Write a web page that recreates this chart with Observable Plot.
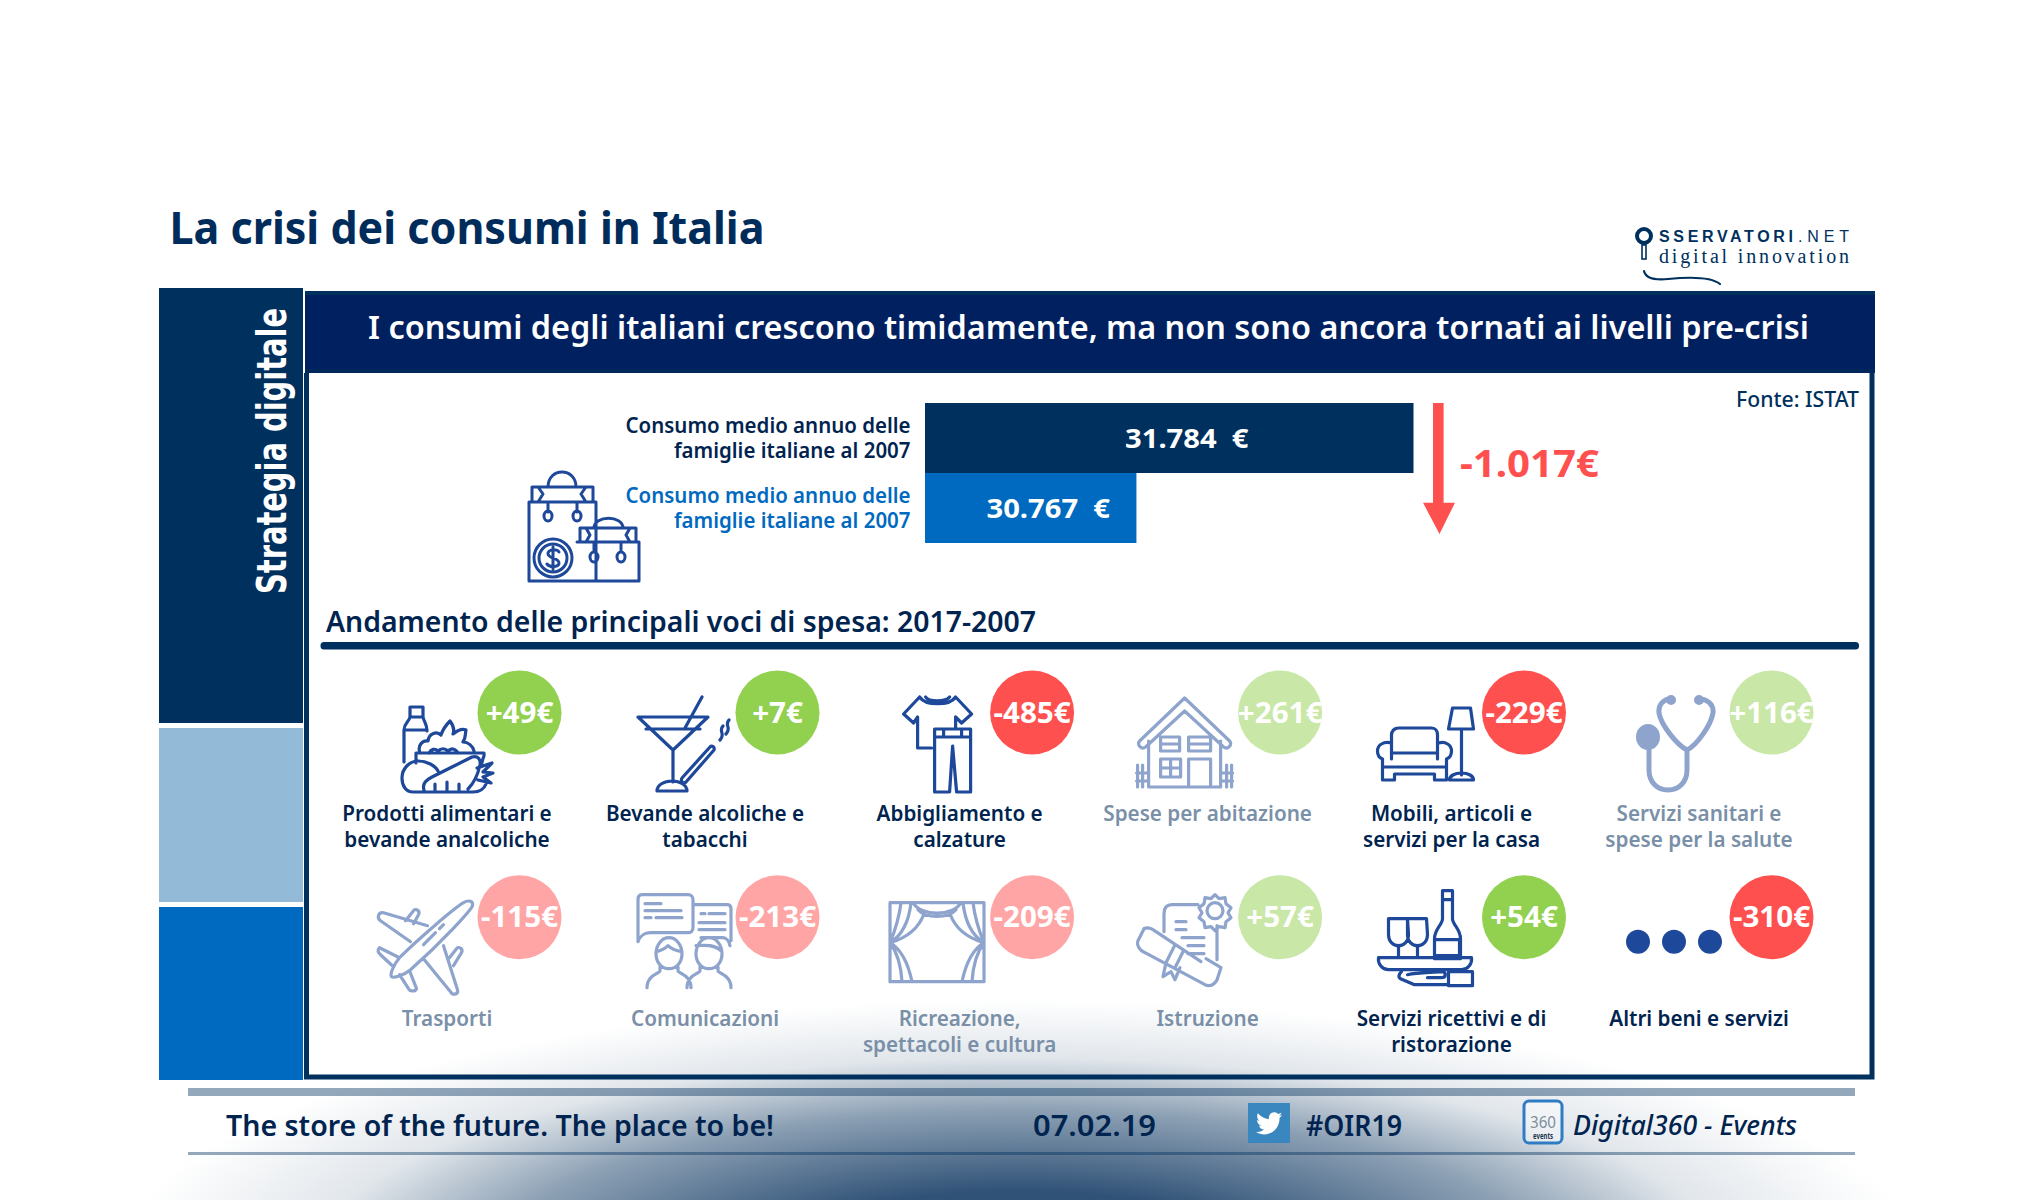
<!DOCTYPE html>
<html lang="it"><head><meta charset="utf-8">
<script src="https://cdn.jsdelivr.net/npm/d3@7"></script>
<script src="https://cdn.jsdelivr.net/npm/@observablehq/plot@0.6"></script>
<style>
html,body{margin:0;padding:0;background:#fff}
#page{position:relative;width:2040px;height:1200px;overflow:hidden;
 background:radial-gradient(ellipse 900px 262px at 1018px 1262px,#305277 0%,#305277 27%,#8ca0b4 58%,#e1e6eb 78%,#ffffff 100%)}
#page svg{position:absolute;left:0;top:0}
</style></head><body><div id="page"></div>
<script>
// ---- data ----
const barKeys = ["2007","2017"];
const barValues = [31784,30767];
const barLabels = ["Consumo medio annuo delle\nfamiglie italiane al 2007","Consumo medio annuo delle\nfamiglie italiane al 2007"];
const categories = [
 "Prodotti alimentari e\nbevande analcoliche","Bevande alcoliche e\ntabacchi","Abbigliamento e\ncalzature","Spese per abitazione","Mobili, articoli e\nservizi per la casa","Servizi sanitari e\nspese per la salute",
 "Trasporti","Comunicazioni","Ricreazione,\nspettacoli e cultura","Istruzione","Servizi ricettivi e di\nristorazione","Altri beni e servizi"];
const deltas = [49,7,-485,261,-229,116,-115,-213,-209,57,54,-310];
const highlighted = [true,true,true,false,true,false,false,false,false,false,true,true];
const iconNames = ["food","drink","clothes","house","furniture","stetho","plane","comm","curtain","diploma","tray","dots"];

// ---- styles & layout ----
const FONT='"Noto Sans",sans-serif';
const NAVY="#00305e", INK="#00244f", MUTED="#7a90a8", BLUE="#0069c0", RED="#ff5050";
const ICON_ON="#1e4899", ICON_OFF="#8ea4cd";
const COLS=6;
const colCentres=[519,777,1031.6,1279.6,1523.5,1771], rowCentres=[712,916.7];
const eur=d3.formatLocale({thousands:".",decimal:",",grouping:[3],currency:["","€"]}).format(",");
const signed=v=>(v>0?"+":"-")+Math.abs(v)+"€";

// icon geometry: offset of the drawing from its tile's badge centre
const icons={
 food:{dx:-120,dy:-6,d:"M11 1h13v10H11Z M11 11c-1 5-6 6-6 13v32 M24 11c1 5 4 7 4 14 M5 24h23 M17 47h68v3c-2 4-2 8-3 10 M17 47v10 M21 47c-3-8 3-13 8-12 1-8 9-10 13-6 2-6 5-10 9-14 3 4 5 8 3 13 5-4 9-6 13-4-1 4 0 8-3 12 5 0 10 4 11 9 M30 47c2-4 6-5 9-2 3-3 7-3 10 0 3-3 7-3 10 2 M3 72c0-10 8-17 16-17s18 4 21 12 M3 72c0 8 4 14 11 14h60c6 0 11-3 13-8 M25 84c-2-6 2-10 8-13 12-6 28-14 40-20 6-2 9 3 8 8-2 9-6 18-12 24 M36 84v-6 M48 84v-8 M60 84v-6 M78 62l15-5-9 9 10 1-10 4 8 6-13-3"},
 drink:{dx:-140,dy:-16,d:"M1 21h70L36 54Z M9 33h54 M36 54v32 M20 95c0-6 7-10 15-10s15 4 15 10Z M65 1L48 32 M45 82l28-31c2-2 5 0 4 3L49 86c-2 2-6 0-4-4Z M86 30c-5 5 3 8-3 14 M92 24c-5 5 3 8-3 14"},
 clothes:{dx:-128,dy:-16,d:"M16 1c6 9 30 9 36 0l16 17-10 9-6-6v12 M16 1L0 18l10 9 4-6v31h14 M22 1c3 5 20 5 24 0 M31 33h36v63H53L49 50 46 96H31Z M31 41h36 M40 33v8 M58 33v8"},
 house:{dx:-143,dy:-15,d:"M48 1L3 44c-3 4 2 9 6 6L48 14l39 36c4 3 9-2 6-6Z M12 44v46h72V44 M24 40h19v14H24Z M24 47h19 M52 40h22v14H52Z M52 47h22 M24 62h20v18H24Z M34 62v18 M24 71h20 M52 90V62h22v28 M1 68v22 M6 68v22 M0 76h12 M0 84h12 M90 68v22 M95 68v22 M84 76h12 M84 84h12"},
 furniture:{dx:-146,dy:-5,d:"M14 36V28c0-4 3-7 7-7h33c4 0 6 3 6 7v8 M14 36c-8-2-14 2-14 8 0 4 2 7 5 8v21h12v-6h40v6h12V52c3-1 5-4 5-8 0-6-6-10-13-8 M14 36v16 M60 36v16 M14 46h46 M5 60h64 M75 1h18l3 21H71Z M84 22v46 M72 73c0-4 5-7 12-7s12 3 12 7Z"},
 stetho:{dx:-135,dy:-16,sw:5,d:"M35 3c-7 0-13 5-12 14 2 12 18 32 28 37 10-5 24-25 26-37 1-9-6-14-14-14 M51 54v20c0 12-8 20-19 20S13 86 13 74V52",fill:"M24 41a12 13 0 1 1-24 0a12 13 0 1 1 24 0Z M40 4a5 5 0 1 1-10 0a5 5 0 1 1 10 0Z M68 4a5 5 0 1 1-10 0a5 5 0 1 1 10 0Z"},
 plane:{dx:-141.5,dy:-18,d:"M86 4c5-3 10-2 9 3-1 4-30 36-62 64-6 5-17 9-19 7-2-3 3-13 8-19C40 41 76 10 86 4Z M50 27L6 14C1 13-1 19 3 22l30 21 M28 22l8-10c2-3 7 0 5 4l-5 9 M66 47l14 44c1 5-5 6-7 2L46 60 M72 59l7-9c2-3 7 0 5 4l-8 13 M20 58L2 49c-3 3-1 5 1 7l13 12 M32 72l7 18c-2 4-7 2-8 0L22 76 M58 34L46 46 M66 26l-4 4"},
 comm:{dx:-140,dy:-23,d:"M5 1h46c3 0 5 2 5 5v28c0 3-2 5-5 5H13c-5 0-10 3-12 9V6C1 3 2 1 5 1Z M8 10h16 M8 17h36 M8 24h6 M19 24h26 M56 11h34c3 0 4 2 4 4v32 M64 44h22c3 0 6 3 7 8 M64 20h4 M72 20h16 M62 29h26 M62 36h26 M19 60a13 16 0 1 1 26 0c0 8-5 15-13 15s-13-7-13-15Z M19 58c5-1 9-3 12-6 3 3 8 5 14 6 M23 73v4c0 3-13 4-13 17 M41 73v4c0 3 13 4 13 17 M59 60a13 16 0 1 1 26 0c0 8-5 15-13 15s-13-7-13-15Z M59 52c10-1 20-1 26 6 M63 73v4c0 3-13 4-13 17 M81 73v4c0 3 13 4 13 17"},
 curtain:{dx:-142.6,dy:-15,d:"M1 1h94v79H1Z M24 1c8 14 40 14 48 0 M29 8c8 9 30 9 38 0 M12 1C10 17 6 29 1 41 M22 1C20 19 14 33 1 41 M35 12C30 26 18 36 1 41 M1 41c10 6 18 20 22 39 M1 41c6 8 11 22 12 39 M84 1c2 16 6 28 11 40 M74 1c2 18 8 32 21 40 M61 12c5 14 17 24 34 29 M95 41c-10 6-18 20-22 39 M95 41c-6 8-11 22-12 39"},
 diploma:{dx:-143.6,dy:-25,d:"M28 40V22c0-6 3-9 8-9h26 M81 34v34 M79 3l4 4 6-1 1 6 5 4-3 5 3 5-5 4-1 6-6-1-4 4-4-4-6 1-1-6-5-4 3-5-3-5 5-4 1-6 6 1Z M87 19a8 8 0 1 1-16 0a8 8 0 1 1 16 0Z M40 30h10 M40 38h10 M46 46h22 M52 54h16 M52 62h16 M8 37l-5 10c-4 6 1 12 6 14l60 32c6 3 12-2 13-8l3-9-15-9 M8 37c4-2 8 0 12 3l45 30 M38 55l-8 16 M47 60l-8 16 M30 71l-3 14 8-5 4 8 5-12"},
 tray:{dx:-146,dy:-27,d:"M65 1h10v28c0 6 8 10 8 20v20H57V49c0-10 8-14 8-20Z M65 10h10 M58 50h24v16H58 M11 29h19l1 16c0 7-5 11-10 11s-10-4-10-11Z M30 29h19l1 16c0 7-5 11-10 11s-10-4-10-11Z M21 56v12 M40 56v12 M1 68h93c1 6-4 12-10 12H11C5 80 0 74 1 68Z M24 82c-2 2-4 5-1 7l14 6h34 M30 85c10-2 22-2 34-3 5 0 5 6 0 6H50 M71 82h24v14H71Z"},
 dots:{dx:-145,dy:13,sw:0,d:"",fill:"M24 12a12 12 0 1 1-24 0a12 12 0 1 1 24 0Z M60 12a12 12 0 1 1-24 0a12 12 0 1 1 24 0Z M96 12a12 12 0 1 1-24 0a12 12 0 1 1 24 0Z"}
};
const bagPath="M1 30h67v79H1Z M4 15h61v15H4Z M20 15c0-20 28-20 28 0 M10 15l5 7-5 8 M58 15l-5 7 5 8 M20 30v10 M49 30v10 M24 44a4 5 0 1 1-8 0a4 5 0 1 1 8 0Z M53 44a4 5 0 1 1-8 0a4 5 0 1 1 8 0Z M44 86a19 19 0 1 1-38 0a19 19 0 1 1 38 0Z M39 86a14 14 0 1 1-28 0a14 14 0 1 1 28 0Z M31 80c-2-3-10-3-11 1-1 6 11 4 11 10 0 4-9 5-12 1 M25 75v22 M49 70h62v39H46 M52 56h56v14H52Z M66 56c0-13 29-13 29 0 M58 56l4 7-4 7 M102 56l-4 7 4 7 M66 70v10 M93 70v10 M70 85a4 5 0 1 1-8 0a4 5 0 1 1 8 0Z M97 85a4 5 0 1 1-8 0a4 5 0 1 1 8 0Z";

const page=document.getElementById("page");

// ---- page furniture: titles, panels, logo, footer ----
const chrome=d3.create("svg").attr("width",2040).attr("height",1200).attr("viewBox","0 0 2040 1200").style("font-family",FONT);
const rect=(x,y,w,h,fill,rx=0)=>chrome.append("rect").attr("x",x).attr("y",y).attr("width",w).attr("height",h).attr("fill",fill).attr("rx",rx);
const text=(s,x,y,w,size,fill,weight=600,extra={})=>{
  const t=chrome.append("text").attr("x",x).attr("y",y).attr("font-size",size).attr("font-weight",weight).attr("fill",fill)
    .attr("textLength",w).attr("lengthAdjust","spacingAndGlyphs").text(s);
  for(const k in extra) t.attr(k,extra[k]);
  return t;
};
const path=(d,stroke,sw,fill="none",tx=0,ty=0)=>chrome.append("path").attr("d",d).attr("stroke",stroke).attr("stroke-width",sw).attr("fill",fill)
   .attr("stroke-linejoin","round").attr("stroke-linecap","round").attr("transform",`translate(${tx},${ty})`);

rect(159,288,144,435,NAVY);
rect(159,728,144,174,"#93bad6");
rect(159,907,144,173,BLUE);
text("Strategia digitale",0,0,286,40,"#fff",700,{transform:"translate(286,594) rotate(-90)",style:"font-family:'DejaVu Sans'"});

chrome.append("path").attr("d","M306.5 373V1077H1872V373").attr("fill","none").attr("stroke",NAVY).attr("stroke-width",5);
rect(305,291,1570,82,"#002060");
rect(305,291,1570,4,NAVY);
rect(305,369,1570,4,"#00285c");

text("La crisi dei consumi in Italia",169.5,244,595,45,"#002c5c",700);
text("I consumi degli italiani crescono timidamente, ma non sono ancora tornati ai livelli pre-crisi",368,339,1441,33,"#fff");
text("Fonte: ISTAT",1736,407,123,21,NAVY,500);
text("Andamento delle principali voci di spesa: 2017-2007",326,632,710,29,"#00244f");
rect(320.5,642,1538.5,7.5,NAVY,3.5);

// logo
chrome.append("circle").attr("cx",1644).attr("cy",236).attr("r",7).attr("fill","none").attr("stroke",NAVY).attr("stroke-width",4);
rect(1642,245,4,14,"#fff").attr("stroke",NAVY).attr("stroke-width",1.6);
text("SSERVATORI",1659,242,134,16,NAVY,700,{style:"font-family:'Liberation Sans'",lengthAdjust:"spacing"});
text(".NET",1798,242,51,16,NAVY,400,{style:"font-family:'Liberation Sans'",lengthAdjust:"spacing"});
text("digital innovation",1659,263,190,20,NAVY,400,{style:"font-family:'Liberation Serif'",lengthAdjust:"spacing"});
path("M1644 271c2 9 14 9 24 8 20-2 42-3 52 5",NAVY,2.2);

// shopping bags
path(bagPath,ICON_ON,3,"none",528,472);

// arrow & total change
chrome.append("path").attr("d","M1433 403h10.6v99.7h11.4L1439.5 534 1423 502.7h10Z").attr("fill",RED);
text("-"+eur(barValues[0]-barValues[1])+"€",1460,476.7,139,38,RED,700);

// footer
rect(188,1088,1667,8,"rgba(0,48,94,.42)");
rect(188,1152,1667,3,"rgba(0,48,94,.42)");
text("The store of the future. The place to be!",226,1136,548,29,"#00244f");
text("07.02.19",1033,1136,123,29,"#00244f");
rect(1248,1103,42,40,"#3a87bf");
chrome.append("path").attr("fill","#fff").attr("transform","translate(1255,1109) scale(1.15,1.2)").attr("d","M23.643 4.937c-.835.37-1.732.62-2.675.733.962-.576 1.7-1.49 2.048-2.578-.9.534-1.897.922-2.958 1.13-.85-.904-2.06-1.47-3.4-1.47-2.572 0-4.658 2.086-4.658 4.66 0 .364.042.718.12 1.06-3.873-.195-7.304-2.05-9.602-4.868-.4.69-.63 1.49-.63 2.342 0 1.616.823 3.043 2.072 3.878-.764-.025-1.482-.234-2.11-.583v.06c0 2.257 1.605 4.14 3.737 4.568-.392.106-.803.162-1.227.162-.3 0-.593-.028-.877-.082.593 1.85 2.313 3.198 4.352 3.234-1.595 1.25-3.604 1.995-5.786 1.995-.376 0-.747-.022-1.112-.065 2.062 1.323 4.51 2.093 7.14 2.093 8.57 0 13.255-7.098 13.255-13.254 0-.2-.005-.402-.014-.602.91-.658 1.7-1.477 2.323-2.41z");
text("#OIR19",1306,1136,96,29,"#00244f");
rect(1524,1101,38,42,"rgba(255,255,255,.45)",5).attr("stroke","#2f7cc4").attr("stroke-width",3);
text("360",1530,1128,26,17,"#7f8d9c",400);
text("events",1533,1139,20,8,"#1f3550",700);
text("Digital360 - Events",1573,1135,224,27,"#00244f",500,{"font-style":"italic"});

page.append(chrome.node());

const squeeze=(plot,k)=>{ plot.querySelectorAll("text").forEach(t=>{const tr=t.getAttribute("transform")||""; t.setAttribute("transform",tr+` scale(${k},1)`);}); return plot; };

// ---- top bars: the axis is truncated, as in the original ----
const barData=barKeys.map((k,i)=>({key:k,value:barValues[i],label:barLabels[i],text:eur(barValues[i])+"\u00a0\u00a0€"}));
const barBase=29991;
const barsPlot=Plot.plot({
  width:2040,height:1200,margin:0,
  style:{background:"transparent",fontFamily:FONT},
  x:{axis:null,domain:[barBase,barValues[0]],range:[925,1413.5]},
  y:{axis:null,type:"band",domain:barKeys,range:[403,543],padding:0},
  color:{domain:["2007","2017"],range:[NAVY,BLUE]},
  marks:[
    Plot.barX(barData,{x1:()=>barBase,x2:"value",y:"key",fill:"key"}),
    Plot.text(barData,{x:d=>(barBase+d.value)/2,y:"key",text:"text",fill:"#fff",fontSize:27,fontWeight:700,dx:17,dy:1})
  ]
});
squeeze(barsPlot,1.08);
page.append(barsPlot);
const barLabelPlot=Plot.plot({
  width:2040,height:1200,margin:0,
  style:{background:"transparent",fontFamily:FONT},
  x:{axis:null,domain:[barBase,barValues[0]],range:[925,1413.5]},
  y:{axis:null,type:"band",domain:barKeys,range:[403,543],padding:0},
  color:{domain:["2007","2017"],range:[INK,BLUE]},
  marks:[
    Plot.text(barData,{x:()=>barBase,y:"key",text:"label",fill:"key",textAnchor:"end",dx:-15,dy:-1,fontSize:21,fontWeight:600,lineHeight:1.2})
  ]
});
squeeze(barLabelPlot,0.975);
page.append(barLabelPlot);

// ---- tiles ----
const tiles=categories.map((label,i)=>({label,delta:deltas[i],on:highlighted[i],icon:iconNames[i],col:i%COLS,row:Math.floor(i/COLS)}));
const badgeKey=d=>(d.delta>0?"up":"down")+(d.on?"":"Muted");
const iconMark=(index,{x,y})=>{
  const g=d3.create("svg:g");
  for(const t of tiles){
    const ic=icons[t.icon], col=t.on?ICON_ON:ICON_OFF;
    const n=g.append("g").attr("transform",`translate(${x(t.col)+ic.dx},${y(t.row)+ic.dy})`);
    if(ic.d) n.append("path").attr("d",ic.d).attr("fill","none").attr("stroke",col).attr("stroke-width",ic.sw||3.2).attr("stroke-linejoin","round").attr("stroke-linecap","round");
    if(ic.fill) n.append("path").attr("d",ic.fill).attr("fill",col);
  }
  return g.node();
};
const tilePlot=Plot.plot({
  width:2040,height:1200,margin:0,
  style:{background:"transparent",fontFamily:FONT},
  x:{axis:null,type:"linear",domain:[0,1,2,3,4,5],range:colCentres},
  y:{axis:null,type:"linear",domain:[0,1],range:rowCentres},
  color:{domain:["up","down","upMuted","downMuted"],range:["#92d050","#ff5050","#c9e7a7","#ffa5a5"]},
  marks:[
    iconMark,
    Plot.dot(tiles,{x:"col",y:"row",r:42,fill:badgeKey}),
    Plot.text(tiles,{x:"col",y:"row",text:d=>signed(d.delta),fill:"#fff",fontSize:29,fontWeight:700,dy:1})
  ]
});
squeeze(tilePlot,1.02);
page.append(tilePlot);
const tileLabelPlot=Plot.plot({
  width:2040,height:1200,margin:0,
  style:{background:"transparent",fontFamily:FONT},
  x:{axis:null,type:"linear",domain:[0,1,2,3,4,5],range:colCentres},
  y:{axis:null,type:"linear",domain:[0,1],range:rowCentres},
  color:{domain:["on","off"],range:[INK,MUTED]},
  marks:[
    Plot.text(tiles,{x:"col",y:"row",text:"label",fill:d=>d.on?"on":"off",dx:-72.5,dy:90,lineAnchor:"top",fontSize:21,fontWeight:600,lineHeight:1.24})
  ]
});
squeeze(tileLabelPlot,0.985);
page.append(tileLabelPlot);
</script></body></html>
